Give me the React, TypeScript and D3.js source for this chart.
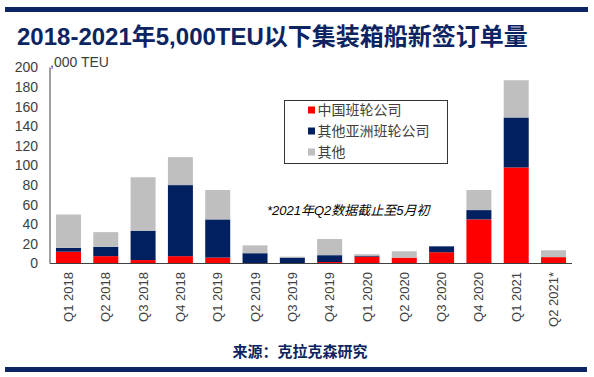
import React from "react";
import * as d3 from "d3";

const categories = ["Q1 2018","Q2 2018","Q3 2018","Q4 2018","Q1 2019","Q2 2019","Q3 2019","Q4 2019","Q1 2020","Q2 2020","Q3 2020","Q4 2020","Q1 2021","Q2 2021*"];
const chinaLiners = [12, 7.5, 3.5, 7.5, 6, 0, 0, 1.5, 7, 6, 11.5, 45, 98, 6.5];
const otherAsianLiners = [4, 9.5, 30, 72.5, 39, 10.5, 6, 7, 1, 0, 6, 9.5, 51, 0];
const others = [34, 15, 54.5, 28.5, 30, 8, 1, 16.5, 1.5, 6.5, 0, 20.5, 38, 7];
const seriesNames = ["中国班轮公司", "其他亚洲班轮公司", "其他"];
const yTicks = [0, 20, 40, 60, 80, 100, 120, 140, 160, 180, 200];

const colors = ["#ff0000", "#002060", "#bfbfbf"];
const NAVY = "#0c2461";
const TXT = "#404040";
const FONT = "'Liberation Sans', Arial, 'Noto Sans CJK SC', sans-serif";
const CJK = "'Noto Sans CJK SC', 'Liberation Sans', sans-serif";

export default function App() {
  const W = 594, H = 377;
  const x = d3.scaleBand<string>().domain(categories).range([50, 572]).paddingInner(0.33).paddingOuter(0.16);
  const y = d3.scaleLinear().domain([0, 200]).range([263.5, 67.5]);
  const table = categories.map((c, i) => ({ cat: c, a: chinaLiners[i], b: otherAsianLiners[i], c: others[i] }));
  const stacked = d3.stack<any>().keys(["a", "b", "c"])(table);

  return (
    <div style={{ position: "absolute", left: 0, top: 0 }}>
      <svg width={W} height={H} style={{ display: "block", background: "#fff" }}>
        <rect x={5} y={7} width={583} height={5} fill={NAVY} />
        <text x={17} y={45} fontFamily={FONT} fontWeight="bold" fontSize={24} fill={NAVY}>
          2018-2021年5,000TEU以下集装箱船新签订单量
        </text>
        {stacked.map((s, si) =>
          s.map((d, i) => (
            <rect key={si + "-" + i} x={x(categories[i])} y={y(d[1])} width={x.bandwidth()}
              height={Math.max(0, y(d[0]) - y(d[1]))} fill={colors[si]} />
          ))
        )}
        <line x1={50} x2={50} y1={y(200)} y2={y(0)} stroke={TXT} strokeWidth={1} />
        <line x1={50} x2={572} y1={y(0)} y2={y(0)} stroke={TXT} strokeWidth={1} />
        {yTicks.map(t => (
          <text key={t} x={38} y={y(t)} dy="0.35em" textAnchor="end" fontFamily={FONT} fontSize={14} fill={TXT}>{t}</text>
        ))}
        <text x={50} y={67} fontFamily={FONT} fontSize={14} fill={TXT}>,000 TEU</text>
        {categories.map(c => {
          const cx = (x(c) as number) + x.bandwidth() / 2;
          return (
            <text key={c} transform={`translate(${cx},272) rotate(-90)`} dy="0.35em" textAnchor="end"
              fontFamily={FONT} fontSize={13} fill={TXT}>{c}</text>
          );
        })}
        <rect x={284.5} y={100.5} width={163} height={63} fill="#fff" stroke="#333" strokeWidth={1} />
        {seriesNames.map((n, i) => (
          <g key={n}>
            <rect x={308} y={106.5 + i * 21} width={7} height={7} fill={colors[i]} />
            <text x={317.5} y={110 + i * 21} dy="0.35em" fontFamily={CJK} fontSize={14} fill={TXT}>{n}</text>
          </g>
        ))}
        <text x={267} y={210} dy="0.35em" fontFamily={FONT} fontStyle="italic" fontSize={13} fill="#000">
          *2021年Q2数据截止至5月初
        </text>
        <text x={300} y={357} textAnchor="middle" fontFamily={CJK} fontWeight="bold" fontSize={15} fill={NAVY}>
          来源：克拉克森研究
        </text>
        <rect x={5} y={367} width={582} height={5} fill={NAVY} />
      </svg>
    </div>
  );
}
